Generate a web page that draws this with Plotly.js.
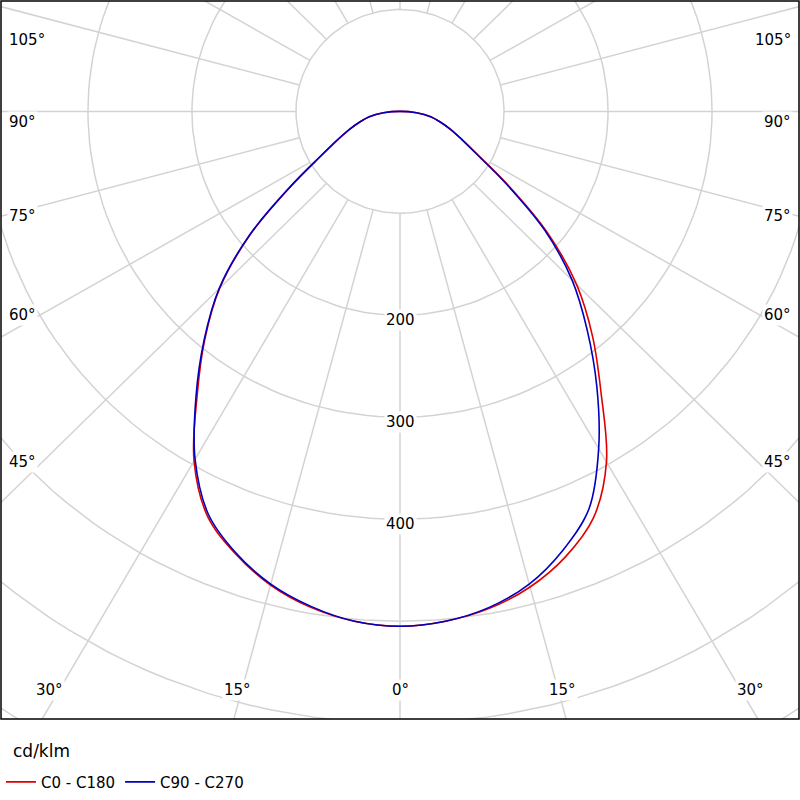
<!DOCTYPE html>
<html><head><meta charset="utf-8">
<script src="https://cdn.plot.ly/plotly-3.0.1.min.js"></script>
<style>body{margin:0}#c{width:800px;height:800px}</style></head>
<body><div id="c"></div>
<script>
// gamma angles (deg) and intensities (cd/klm)
const gammas = [0,5,10,15,20,25,30,35,40,45,50,55,60,65,70,75,80,85,90];
const c0   = [505,502,495,483,465,440,397,337,288,240,185,128,88,66,52,40,30,16,0];   // C0 (right)
const c180 = [505,502,494,481,462,438,396,340,292,245,188,128,88,66,52,40,30,16,0];   // C180 (left)
const c90  = [505,502,494,480,458,430,382,330,280,234,182,126,87,66,52,40,30,16,0];   // C90 (right)
const c270 = [505,502,493,480,461,436,394,342,293,246,189,129,89,67,52,40,30,16,0];   // C270 (left)
const ringValues = [100,200,300,400,500,600,700,800];
const ringLabels = ['200','300','400'];
const angleLabels = ['105°','90°','75°','60°','45°'];
const bottomLabels = ['30°','15°','0°'];
const seriesNames = ['C0 - C180','C90 - C270'];

const rad = d => d*Math.PI/180;
function curve(left, right){
  const xs=[], ys=[];
  for(let i=gammas.length-1;i>=0;i--){xs.push(-left[i]*Math.sin(rad(gammas[i]))); ys.push(-left[i]*Math.cos(rad(gammas[i])));}
  for(let i=1;i<gammas.length;i++){xs.push(right[i]*Math.sin(rad(gammas[i]))); ys.push(-right[i]*Math.cos(rad(gammas[i])));}
  return {xs,ys};
}
const traces=[];
const gridStyle={color:'#d3d3d3',width:1.5};
ringValues.forEach(r=>{
  const xs=[],ys=[];
  for(let a=0;a<=360;a+=2){xs.push(r*Math.sin(rad(a)));ys.push(-r*Math.cos(rad(a)));}
  traces.push({x:xs,y:ys,mode:'lines',line:gridStyle,hoverinfo:'skip',showlegend:false});
});
for(let a=0;a<360;a+=15){
  traces.push({x:[100*Math.sin(rad(a)),1200*Math.sin(rad(a))],y:[-100*Math.cos(rad(a)),-1200*Math.cos(rad(a))],
    mode:'lines',line:gridStyle,hoverinfo:'skip',showlegend:false});
}
const a1=curve(c180,c0), a2=curve(c270,c90);
traces.push({x:a1.xs,y:a1.ys,mode:'lines',line:{color:'#e00000',width:1.6,shape:'spline'},name:seriesNames[0]});
traces.push({x:a2.xs,y:a2.ys,mode:'lines',line:{color:'#0000c0',width:1.6,shape:'spline'},name:seriesNames[1]});

const XR=383.6, YT=108.3, YB=-596;
const H=734;
const ann=[];
const f={family:'DejaVu Sans, Verdana, sans-serif',size:15,color:'#000'};
ringLabels.forEach(t=>{ann.push({x:0,y:-Number(t)-5,text:t,showarrow:false,bgcolor:'#fff',font:f});});
const sideY=[30,113,210,322,472];
angleLabels.forEach((t,i)=>{
  const py=1-(sideY[i]-1)/H;
  ann.push({xref:'paper',yref:'paper',x:0.008,y:py,xanchor:'left',text:t,showarrow:false,bgcolor:'#fff',font:f});
  ann.push({xref:'paper',yref:'paper',x:0.992,y:py,xanchor:'right',text:t,showarrow:false,bgcolor:'#fff',font:f});
});
const bottomX=[33,222,400];
bottomLabels.forEach((t,i)=>{
  const py=1-(717-1)/H;
  ann.push({xref:'paper',yref:'paper',x:bottomX[i]/800,y:py,text:t,showarrow:false,bgcolor:'#fff',font:f});
  if(i<2) ann.push({xref:'paper',yref:'paper',x:(800-bottomX[i])/800,y:py,text:t,showarrow:false,bgcolor:'#fff',font:f});
});
ann.push({xref:'paper',yref:'paper',x:0.012,y:-0.028,xanchor:'left',yanchor:'top',text:'cd/klm',showarrow:false,font:{family:f.family,size:17,color:'#000'}});

Plotly.newPlot('c',traces,{
  width:800,height:800,margin:{l:1,r:1,t:1,b:65},
  paper_bgcolor:'#fff',plot_bgcolor:'#fff',
  xaxis:{range:[-XR,XR],visible:false,fixedrange:true},
  yaxis:{range:[YB,YT],visible:false,fixedrange:true},
  annotations:ann,
  shapes:[{type:'rect',xref:'paper',yref:'paper',x0:0,x1:1,y0:0,y1:1,line:{color:'#000',width:1.5}}],
  legend:{orientation:'h',x:0.0,y:-0.065,xanchor:'left',yanchor:'top',font:{family:f.family,size:15,color:'#000'},traceorder:'normal'},
  showlegend:true
},{staticPlot:true});
</script></body></html>
